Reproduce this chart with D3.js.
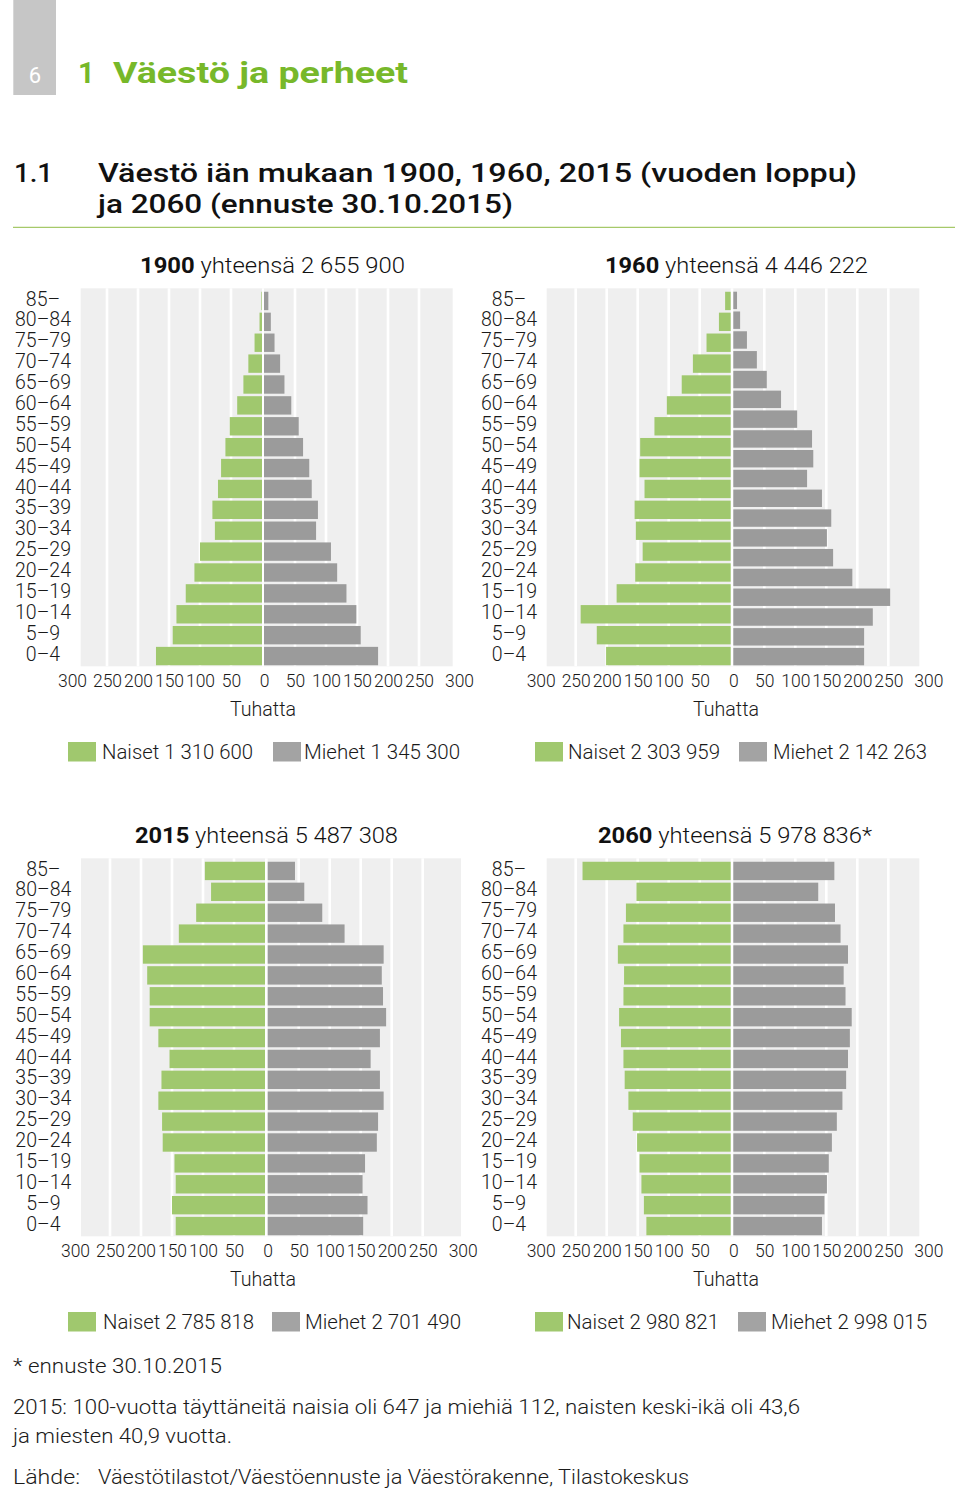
<!DOCTYPE html>
<html><head><meta charset="utf-8">
<script src="https://cdn.jsdelivr.net/npm/d3@7"></script>
<style>
body{margin:0;background:#fff;}
svg text{font-family:Roboto,"Helvetica Neue",Arial,sans-serif;}
</style></head><body>
<svg id="c" width="960" height="1495"></svg>
<script>
// ---------- data (thousands; youngest age group first) ----------
const ageGroups = ["0–4","5–9","10–14","15–19","20–24","25–29","30–34","35–39","40–44","45–49","50–54","55–59","60–64","65–69","70–74","75–79","80–84","85–"];
const years = ["1900","1960","2015","2060"];
const totals = ["2 655 900","4 446 222","5 487 308","5 978 836*"];
const womenTotals = ["1 310 600","2 303 959","2 785 818","2 980 821"];
const menTotals = ["1 345 300","2 142 263","2 701 490","2 998 015"];
const tickValues = [50,100,150,200,250,300];

const women1900 = [171,144,138,123,109,100,76,80,71,66,59,52,40,30,22,12,4,1];
const men1900   = [184,156,149,133,118,108,84,87,77,73,63,56,44,33,26,17,11,7];
const women1960 = [201,216,242,184,154,142,153,155,139,147,146,123,103,79,61,39,19,9];
// the reference draws 19 male bars for 1960
const men1960   = [211,211,225,253,192,161,151,158,143,119,129,127,103,77,54,38,22,11,6];
const women2015 = [144,150,144,146,165,166,172,167,154,172,186,186,190,197,139,111,87,97];
const men2015   = [154,161,153,157,176,178,187,181,166,181,191,186,184,187,124,88,59,44];
const women2060 = [136,140,144,147,151,158,165,171,173,177,180,173,172,182,173,169,152,239];
const men2060   = [143,147,151,154,159,167,176,182,185,188,191,181,178,185,173,164,137,163];

const womenSeries = [women1900, women1960, women2015, women2060];
const menSeries   = [men1900, men1960, men2015, men2060];

// ---------- layout ----------
const GREEN = "#a0c86e", GREY = "#9b9b9b", BG = "#efefef";
const K = 0.62; // px per thousand
const layout = [
  {cF:262,   cM:264,   bgL:80.7,  bgR:452.7, top:290.5, bottom:666.5, labelX:43,   titleX:272.5, titleW:265, unitX:263, leg:[68,102,273,304], legW:[151,156]},
  {cF:730.7, cM:733.3, bgL:546.7, bgR:919.3, top:290.5, bottom:666.5, labelX:509,  titleX:736.5, titleW:263, unitX:726, leg:[535,568,739,773], legW:[152,154]},
  {cF:265,   cM:267.7, bgL:81,    bgR:461,   top:860.5, bottom:1236.5,labelX:43.3, titleX:266.5, titleW:263, unitX:263, leg:[68,103,272,305], legW:[151,156]},
  {cF:730.7, cM:733.3, bgL:546.7, bgR:919.3, top:860.5, bottom:1236.5,labelX:509,  titleX:735,   titleW:274, unitX:726, leg:[535,567,738,771], legW:[152,156]}
];
const fit = (sel, len) => sel.attr("textLength", len).attr("lengthAdjust", "spacingAndGlyphs");

const svg = d3.select("#c");

// ---------- header ----------
svg.append("rect").attr("x",13.3).attr("y",0).attr("width",42.7).attr("height",95).attr("fill","#c6c6c6");
svg.append("text").attr("x",35).attr("y",83.3).attr("text-anchor","middle").attr("font-size",22).attr("fill","#fff").text("6");
svg.append("text").attr("x",78).attr("y",83.3).attr("font-size",29).attr("font-weight",700).attr("fill","#77b82a").text("1");
fit(svg.append("text").attr("x",113).attr("y",83.3).attr("font-size",29).attr("font-weight",700).attr("fill","#77b82a")
  .text("Väestö ja perheet"), 295);
const t1 = svg.append("g").attr("font-size",25).attr("font-weight",500).attr("fill","#111");
fit(t1.append("text").attr("x",14).attr("y",181.7).text("1.1"), 39);
fit(t1.append("text").attr("x",98).attr("y",181.7).text("Väestö iän mukaan 1900, 1960, 2015 (vuoden loppu)"), 759);
fit(t1.append("text").attr("x",98).attr("y",212.5).text("ja 2060 (ennuste 30.10.2015)"), 415);
svg.append("line").attr("x1",13).attr("x2",955).attr("y1",227.3).attr("y2",227.3).attr("stroke","#a6c96a").attr("stroke-width",1.2);

// ---------- panels ----------
layout.forEach((L, i) => {
  const g = svg.append("g");
  const xF = d3.scaleLinear().domain([0,300]).range([L.cF, L.cF - 300*K]);
  const xM = d3.scaleLinear().domain([0,300]).range([L.cM, L.cM + 300*K]);
  const yAge = d3.scaleBand().domain(d3.range(ageGroups.length)).range([L.bottom, L.top]).paddingInner(0.12).paddingOuter(0.06);

  // background + grid
  g.append("rect").attr("x",L.bgL).attr("y",L.top-2.2).attr("width",L.bgR-L.bgL).attr("height",L.bottom-L.top+2).attr("fill",BG);
  const grid = tickValues.filter(v => v < 300);
  g.selectAll(".gf").data(grid).join("line").attr("x1",d=>xF(d)).attr("x2",d=>xF(d))
    .attr("y1",L.top-2.2).attr("y2",L.bottom-0.2).attr("stroke","#fff").attr("stroke-width",2.6);
  g.selectAll(".gm").data(grid).join("line").attr("x1",d=>xM(d)).attr("x2",d=>xM(d))
    .attr("y1",L.top-2.2).attr("y2",L.bottom-0.2).attr("stroke","#fff").attr("stroke-width",2.6);
  g.append("rect").attr("x",L.cF).attr("y",L.top-2.2).attr("width",L.cM-L.cF).attr("height",L.bottom-L.top+2).attr("fill","#fff");

  // bars
  const w = womenSeries[i], m = menSeries[i];
  const yW = d3.scaleBand().domain(d3.range(w.length)).range([L.bottom, L.top]).paddingInner(0.12).paddingOuter(0.06);
  const yM = d3.scaleBand().domain(d3.range(m.length)).range([L.bottom, L.top]).paddingInner(0.12).paddingOuter(0.06);
  g.selectAll(".bw").data(w).join("rect")
    .attr("x", d => xF(d)).attr("width", d => L.cF - xF(d))
    .attr("y", (d,j) => yW(j)).attr("height", yW.bandwidth()).attr("fill", GREEN);
  g.selectAll(".bm").data(m).join("rect")
    .attr("x", L.cM).attr("width", d => xM(d) - L.cM)
    .attr("y", (d,j) => yM(j)).attr("height", yM.bandwidth()).attr("fill", GREY);

  // age labels
  g.selectAll(".al").data(ageGroups).join("text")
    .attr("x", L.labelX).attr("y", (d,j) => yAge(j) + yAge.bandwidth()/2 + 4.6)
    .attr("text-anchor","middle").attr("font-size",19.5).attr("font-weight",300).attr("fill","#1a1a1a").text(d=>d);

  // x axes
  const axY = L.bottom + 20;
  const axF = g.append("g").attr("transform",`translate(0,${axY-14})`)
    .call(d3.axisBottom(xF).tickValues(tickValues).tickSize(0).tickPadding(0).tickFormat(d3.format("d")));
  const axM = g.append("g").attr("transform",`translate(0,${axY-14})`)
    .call(d3.axisBottom(xM).tickValues([0].concat(tickValues)).tickSize(0).tickPadding(0).tickFormat(d3.format("d")));
  [axF, axM].forEach((ax, k) => {
    ax.select(".domain").remove();
    ax.selectAll("text").attr("font-size",17.5).attr("font-weight",300).attr("fill","#1a1a1a")
      .attr("font-family",null).attr("dy",null).attr("y",14)
      .attr("dx", d => d === 300 ? (k === 0 ? -4 : 9) : 0);
  });

  fit(g.append("text").attr("x",L.unitX).attr("y",L.bottom + 49.5).attr("text-anchor","middle")
    .attr("font-size",19.5).attr("font-weight",300).attr("fill","#1a1a1a").text("Tuhatta"), 66);

  // title
  const tt = g.append("text").attr("x",L.titleX).attr("y",L.top - 18).attr("text-anchor","middle").attr("font-size",22).attr("fill","#111");
  tt.append("tspan").attr("font-weight",700).text(years[i]);
  tt.append("tspan").attr("font-weight",300).text(" yhteensä " + totals[i]);
  fit(tt, L.titleW);

  // legend
  const ly = L.bottom + 92;
  g.append("rect").attr("x",L.leg[0]).attr("y",ly-16.5).attr("width",28).attr("height",19.5).attr("fill",GREEN);
  fit(g.append("text").attr("x",L.leg[1]).attr("y",ly).attr("font-size",19.5).attr("font-weight",300).attr("fill","#1a1a1a").text("Naiset " + womenTotals[i]), L.legW[0]);
  g.append("rect").attr("x",L.leg[2]).attr("y",ly-16.5).attr("width",28).attr("height",19.5).attr("fill","#a3a3a3");
  fit(g.append("text").attr("x",L.leg[3]).attr("y",ly).attr("font-size",19.5).attr("font-weight",300).attr("fill","#1a1a1a").text("Miehet " + menTotals[i]), L.legW[1]);
});

// ---------- footer ----------
const ft = svg.append("g").attr("font-size",19.5).attr("font-weight",300).attr("fill","#1a1a1a");
fit(ft.append("text").attr("x",13).attr("y",1373).text("* ennuste 30.10.2015"), 209);
fit(ft.append("text").attr("x",13).attr("y",1413.5).text("2015: 100-vuotta täyttäneitä naisia oli 647 ja miehiä 112, naisten keski-ikä oli 43,6"), 787);
fit(ft.append("text").attr("x",13).attr("y",1442.5).text("ja miesten 40,9 vuotta."), 219);
fit(ft.append("text").attr("x",13).attr("y",1484).text("Lähde:"), 67);
fit(ft.append("text").attr("x",98).attr("y",1484).text("Väestötilastot/Väestöennuste ja Väestörakenne, Tilastokeskus"), 591);
</script>
</body></html>
